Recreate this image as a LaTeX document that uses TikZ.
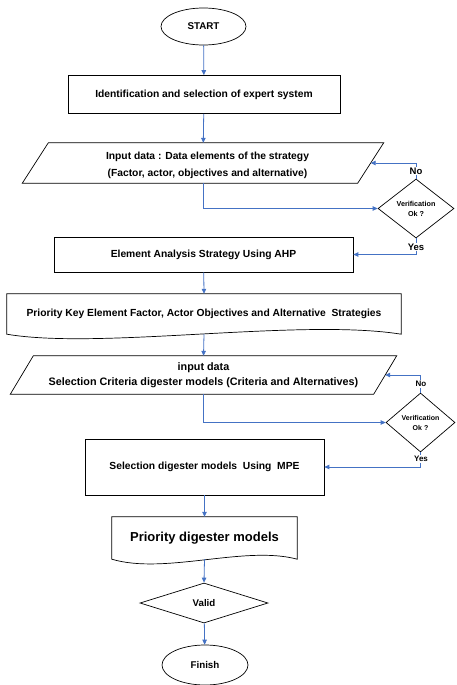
\documentclass[tikz,border=0pt]{standalone}
\usepackage{fontspec}
\setmainfont{Liberation Sans}
\usetikzlibrary{arrows.meta,shapes.geometric}
\begin{document}
\begin{tikzpicture}[x=1pt,y=-1pt,
  outline/.style={draw=black,line width=0.7pt},
  txt/.style={font=\fontsize{10.3}{17}\selectfont\bfseries,align=center,inner sep=0pt},
  boxnode/.style={outline,txt,rectangle},
  plain/.style={txt,rectangle},
  oval/.style={outline,ellipse,inner sep=0pt,font=\fontsize{9.8}{12}\selectfont\bfseries},
  decide/.style={outline,diamond,inner sep=0pt,align=center},
  lab/.style={fill=white,inner sep=0.8pt},
  flow/.style={draw={rgb,255:red,68;green,114;blue,196},line width=0.8pt,
    -{Triangle[length=5pt,width=4.5pt]}}
]
\useasboundingbox (0,0) rectangle (456,685);

% nodes
\node[oval,minimum width=85,minimum height=37] (start) at (203.5,26.5) {START};
\node[boxnode,minimum width=272,minimum height=38] (b1) at (204,94.5)
  {Identification and selection of expert system};
\node[plain,minimum width=335,minimum height=40] (p1) at (203,163)
  {\rule{0pt}{12pt}\hspace*{9pt}Input data : Data elements of the strategy\\\hspace*{9pt}(Factor, actor, objectives and alternative)};
\draw[outline] ([xshift=13]p1.north west) -- ([xshift=13]p1.north east)
  -- ([xshift=-13]p1.south east) -- ([xshift=-13]p1.south west) -- cycle;
\node[decide,minimum width=76,minimum height=59,
  font=\fontsize{7.2}{10}\selectfont\bfseries] (d1) at (416,208.5) {Verification\\Ok ?};
\node[boxnode,minimum width=299,minimum height=35] (b2) at (203.5,254.5)
  {Element Analysis Strategy Using AHP};
\node[plain,minimum width=394,minimum height=40] (doc1) at (204,314)
  {\raisebox{3pt}{Priority Key Element Factor, Actor Objectives and Alternative\ \ Strategies}};
\draw[outline] (doc1.south west) -- (doc1.north west) -- (doc1.north east)
  -- (doc1.south east) .. controls (300,318) and (100,350) .. (doc1.south west) -- cycle;
\node[plain,minimum width=363,minimum height=38,
  font=\fontsize{10.8}{15}\selectfont\bfseries] (p2) at (203.5,375)
  {input data\\Selection Criteria digester models (Criteria and Alternatives)};
\draw[outline] ([xshift=11.5]p2.north west) -- ([xshift=11.5]p2.north east)
  -- ([xshift=-11.5]p2.south east) -- ([xshift=-11.5]p2.south west) -- cycle;
\node[decide,minimum width=69,minimum height=59,
  font=\fontsize{7}{10}\selectfont\bfseries] (d2) at (420.5,422.5) {Verification\\Ok ?};
\node[boxnode,minimum width=239,minimum height=56] (b3) at (204.5,467)
  {Selection digester models\ \ Using\ \ MPE};
\node[plain,minimum width=185,minimum height=42,
  font=\fontsize{13}{16}\selectfont\bfseries] (doc2) at (204.5,538)
  {\raisebox{3pt}{Priority digester models}};
\draw[outline] (doc2.south west) -- (doc2.north west) -- (doc2.north east)
  -- (doc2.south east) .. controls (245,545) and (165,575) .. (doc2.south west) -- cycle;
\node[decide,minimum width=128,minimum height=40,
  font=\fontsize{9.7}{12}\selectfont\bfseries] (d3) at (204,603) {Valid};
\node[oval,minimum width=86,minimum height=40] (finish) at (205,665) {Finish};

% connectors
\draw[flow] (start) -- (b1);
\draw[flow] (b1) -- (p1);
\draw[flow] (p1.south) |- (d1.west);
\draw[flow] (d1.north) |- (p1.east);
\node[lab,font=\fontsize{9.5}{12}\selectfont\bfseries] (no1) at (416,171) {No};
\draw[flow] (d1.south) |- (b2.east);
\node[lab,font=\fontsize{9.5}{12}\selectfont\bfseries] (yes1) at (416,247) {Yes};
\draw[flow] (b2) -- (doc1.north);
\draw[flow] (doc1.south) -- (p2.north);
\draw[flow] (p2.south) |- (d2.west);
\draw[flow] (d2.north) |- (p2.east);
\node[lab,font=\fontsize{8}{10}\selectfont\bfseries] (no2) at (421,384) {No};
\draw[flow] (d2.south) |- (b3.east);
\node[lab,font=\fontsize{8}{10}\selectfont\bfseries] (yes2) at (421,459) {Yes};
\draw[flow] (b3) -- (doc2.north);
\draw[flow] (doc2.south) -- (d3.north);
\draw[flow] (d3) -- (finish);
\end{tikzpicture}
\end{document}
